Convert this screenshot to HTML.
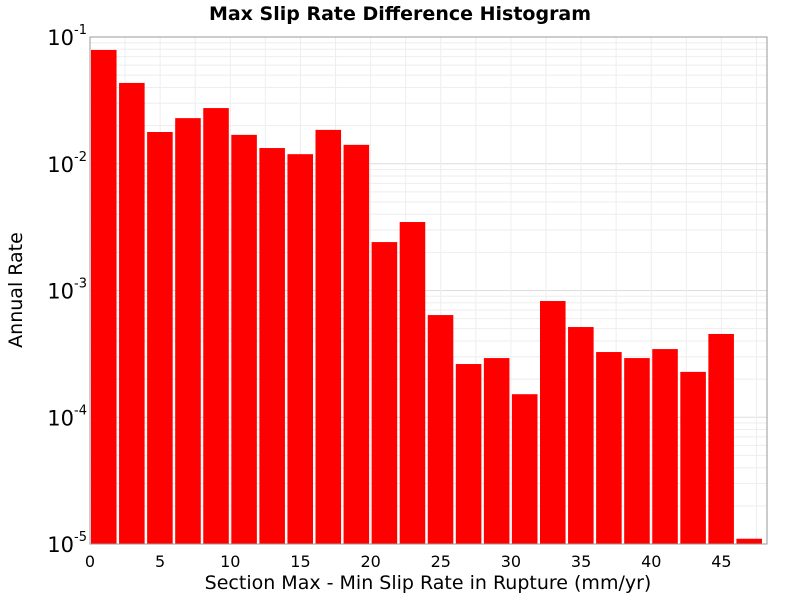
<!DOCTYPE html>
<html><head><meta charset="utf-8"><style>
body{margin:0;background:#fff;width:800px;height:600px;overflow:hidden;font-family:"Liberation Sans","DejaVu Sans",sans-serif}
</style></head><body>
<svg id="chart" width="800" height="600" xmlns="http://www.w3.org/2000/svg">
<text x="400" y="20" text-anchor="middle" font-size="19" font-weight="bold" font-family="DejaVu Sans, sans-serif">Max Slip Rate Difference Histogram</text>
<g id="grid"></g>
<g id="bars"></g>
<rect x="90" y="37" width="677" height="507" fill="none" stroke="#999"/>
<g id="xticks"></g>
<g id="yticks"></g>
<text x="428" y="589" text-anchor="middle" font-size="19" font-family="DejaVu Sans, sans-serif">Section Max - Min Slip Rate in Rupture (mm/yr)</text>
<text transform="translate(22,290) rotate(-90)" text-anchor="middle" font-size="19" font-family="DejaVu Sans, sans-serif">Annual Rate</text>
</svg>
<script>
const binStarts=[0,2,4,6,8,10,12,14,16,18,20,22,24,26,28,30,32,34,36,38,40,42,44,46];
const rates=[0.079,0.0434,0.0178,0.0229,0.0275,0.0169,0.0133,0.0119,0.0185,0.0141,0.00241,0.00347,0.00064,0.000263,0.000293,0.000152,0.000826,0.000515,0.000327,0.000293,0.000345,0.000228,0.000454,0.000011];
const binWidth=2;
const xTicks=[0,5,10,15,20,25,30,35,40,45];
const yExps=[-5,-4,-3,-2,-1];
const NS="http://www.w3.org/2000/svg";
const L=90,R=767,T=37,B=544,xMin=0,xMax=48.25,yMinE=-5,yMaxE=-1;
function xs(v){return L+(v-xMin)/(xMax-xMin)*(R-L);}
function ys(v){return B-(Math.log10(v)-yMinE)/(yMaxE-yMinE)*(B-T);}
function mk(tag,attrs,parent){const e=document.createElementNS(NS,tag);for(const k in attrs)e.setAttribute(k,attrs[k]);parent.appendChild(e);return e;}
const grid=document.getElementById('grid');
for(let e=yMinE;e<yMaxE;e++){for(let m=1;m<10;m++){const y=ys(m*Math.pow(10,e));
const ln=mk('line',{x1:L,x2:R,y1:y,y2:y,stroke:m==1?'#ddd':'#eee','stroke-width':1},grid);

}}
for(let v=0;v<=48;v+=2.5){const x=xs(v);
const ln=mk('line',{x1:x,x2:x,y1:T,y2:B,stroke:'#eee','stroke-width':1},grid);

}
const bars=document.getElementById('bars');
binStarts.forEach((s,i)=>{const x0=xs(s)+1,x1=xs(s+binWidth)-1.5,y=ys(rates[i]);
const r=mk('rect',{x:x0,y:y,width:x1-x0,height:B-y,fill:'#ff0000'},bars);

});
const xt=document.getElementById('xticks');
xTicks.forEach(v=>{const x=xs(v);
const t=mk('text',{x:x,y:567,'text-anchor':'middle','font-size':16,'font-family':'DejaVu Sans, sans-serif'},xt);t.textContent=v;

});
const yt=document.getElementById('yticks');
yExps.forEach(e=>{const y=ys(Math.pow(10,e));
const t=mk('text',{x:74,y:y+8,'text-anchor':'end','font-size':21,'font-family':'DejaVu Sans, sans-serif'},yt);t.textContent='10';


const s=mk('text',{x:74,y:y-3,'font-size':13,'font-family':'DejaVu Sans, sans-serif'},yt);s.textContent=String(e);

});
</script>
</body></html>
